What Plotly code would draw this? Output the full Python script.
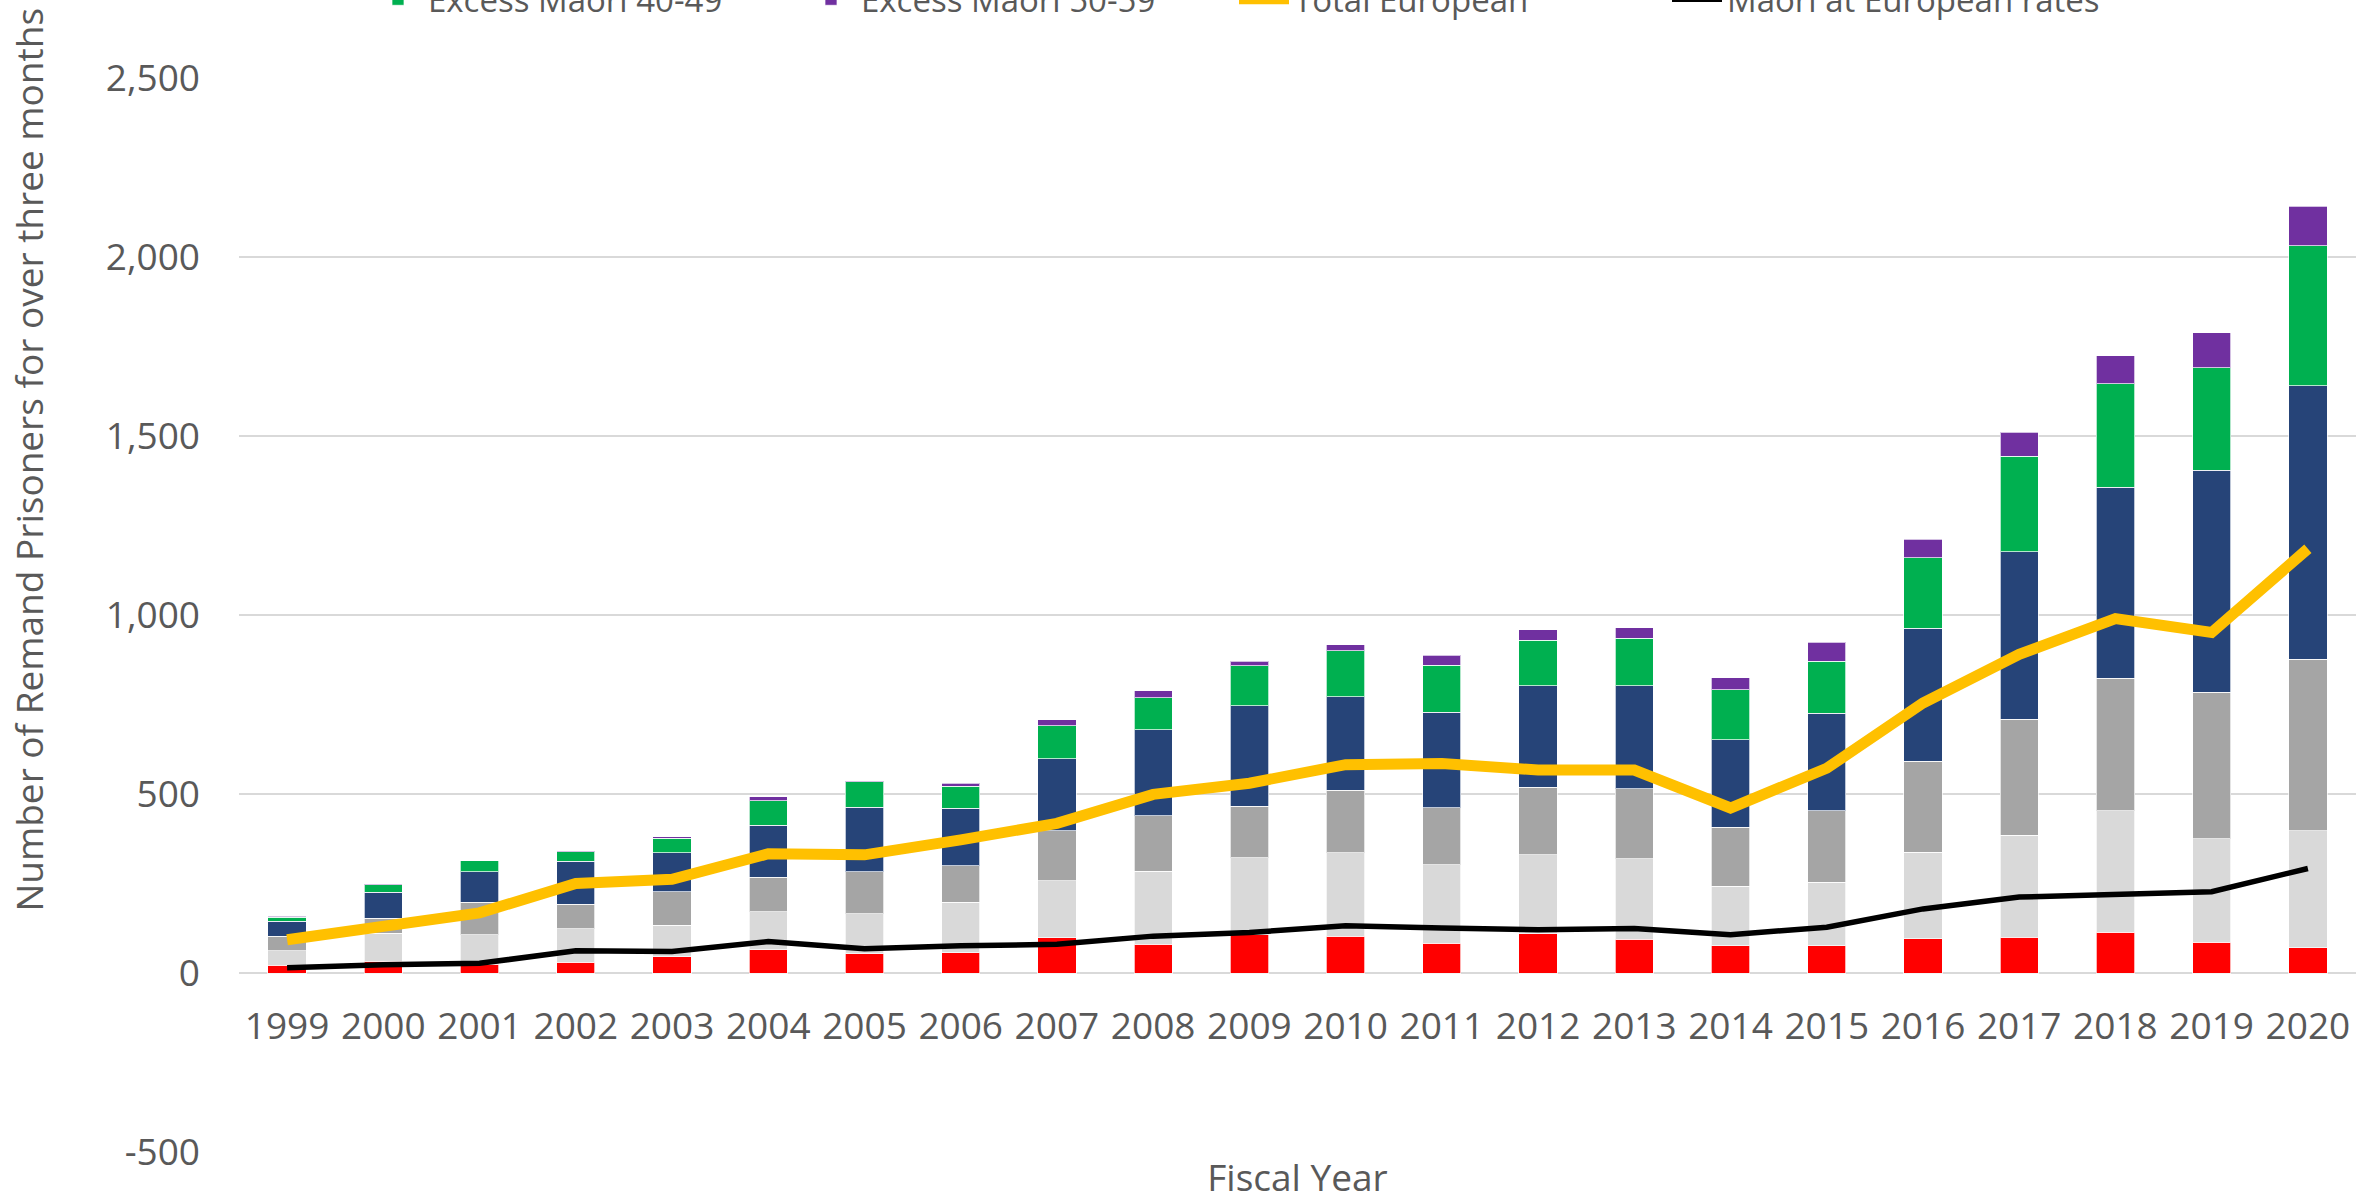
import plotly.graph_objects as go

# Fiscal years on the category axis
years = [str(y) for y in range(1999, 2021)]

# Remand prisoners held over three months, stacked components
excess_17_19 = [21, 33, 25, 30, 45, 65, 54, 57, 98, 80, 107, 103, 83, 110, 94, 76, 76, 95, 100, 114, 86, 70]
excess_20_24 = [41, 78, 82, 94, 88, 106, 111, 141, 159, 204, 215, 233, 220, 221, 225, 166, 178, 243, 285, 339, 289, 327]
excess_25_29 = [41, 42, 90, 68, 94, 97, 118, 102, 141, 155, 144, 174, 158, 188, 195, 165, 199, 254, 324, 371, 409, 480]
excess_30_39 = [42, 72, 86, 120, 109, 145, 180, 160, 201, 240, 281, 262, 267, 284, 289, 244, 272, 371, 467, 533, 621, 763]
excess_40_49 = [11, 22, 30, 27, 41, 68, 71, 62, 92, 90, 111, 128, 131, 126, 132, 140, 146, 197, 267, 289, 285, 392]
excess_50_59 = [2, 3, 1, 3, 3, 11, 3, 8, 16, 19, 13, 17, 29, 30, 29, 34, 53, 51, 68, 78, 98, 110]

# Line series
total_european = [93, 129, 168, 250, 262, 333, 330, 372, 418, 499, 530, 582, 585, 567, 567, 461, 572, 754, 890, 990, 951, 1185]
maori_at_european_rates = [15, 23, 27, 62, 60, 88, 68, 76, 80, 103, 113, 132, 126, 121, 124, 107, 128, 179, 212, 220, 227, 292]

# Value axis ticks (plain hyphen for the negative label)
y_ticks = [-500, 0, 500, 1000, 1500, 2000, 2500]
y_tick_labels = ["-500", "0", "500", "1,000", "1,500", "2,000", "2,500"]

FONT = "Open Sans"
TXT = "#595959"
FS = 37
LEGEND_FS = 33

bar_series = [
    ("Excess Maori 17-19", excess_17_19, "#FF0000", "legend"),
    ("Excess Maori 20-24", excess_20_24, "#D9D9D9", "legend"),
    ("Excess Maori 25-29", excess_25_29, "#A5A5A5", "legend"),
    ("Excess Maori 30-39", excess_30_39, "#264478", "legend"),
    ("Excess Maori 40-49", excess_40_49, "#00B050", "legend2"),
    ("Excess Maori 50-59", excess_50_59, "#7030A0", "legend2"),
]

fig = go.Figure()
for name, vals, color, lg in bar_series:
    fig.add_trace(go.Bar(
        x=years, y=vals, name=name, legend=lg,
        marker=dict(color=color, line=dict(color="rgba(255,255,255,0.7)", width=1)),
    ))

fig.add_trace(go.Scatter(
    x=years, y=total_european, name="Total European", mode="lines", legend="legend2",
    line=dict(color="#FFC000", width=11),
))
fig.add_trace(go.Scatter(
    x=years, y=maori_at_european_rates, name="Maori at European rates", mode="lines", legend="legend2",
    line=dict(color="#000000", width=5.5),
))

PLOT_L, PLOT_T, PLOT_W, PLOT_H = 239, 77.7, 2117, 1074.6

legend_common = dict(
    orientation="h", xref="paper", yref="paper", xanchor="left", yanchor="middle",
    font=dict(family=FONT, size=LEGEND_FS, color=TXT), bgcolor="rgba(0,0,0,0)",
    entrywidth=368, entrywidthmode="pixels", itemwidth=50, traceorder="normal",
)
legend_x = (368 - PLOT_L) / PLOT_W

fig.update_layout(
    width=2356, height=1202,
    paper_bgcolor="white", plot_bgcolor="white",
    margin=dict(l=239, r=0, t=78, b=50, autoexpand=False),
    barmode="stack", bargap=0.602,
    font=dict(family=FONT, size=FS, color=TXT),
    showlegend=True,
    legend=dict(x=legend_x, y=1 + (PLOT_T + 51) / PLOT_H, **legend_common),
    legend2=dict(x=legend_x, y=1 + (PLOT_T + 1) / PLOT_H, **legend_common),
    xaxis=dict(
        type="category", range=[-0.5, 21.5], anchor="free", position=1 / 6,
        showgrid=False, showline=False, zeroline=False, ticks="",
        ticklabelstandoff=28,
        tickfont=dict(family=FONT, size=FS, color=TXT),
        title=dict(text="Fiscal Year", standoff=156, font=dict(family=FONT, size=FS, color=TXT)),
    ),
    yaxis=dict(
        range=[-500, 2500], tickvals=y_ticks, ticktext=y_tick_labels,
        showgrid=True, gridcolor="#D9D9D9", gridwidth=2,
        zeroline=True, zerolinecolor="#D9D9D9", zerolinewidth=2,
        showline=False, ticks="", ticklabelstandoff=38,
        tickfont=dict(family=FONT, size=FS, color=TXT),
    ),
    annotations=[dict(
        text="Number of Remand Prisoners for over three months",
        textangle=-90, xref="paper", yref="paper",
        x=(29 - PLOT_L) / PLOT_W, y=(1152.3 - 459.5) / PLOT_H,
        xanchor="center", yanchor="middle", showarrow=False,
        font=dict(family=FONT, size=FS, color=TXT),
    )],
)

fig.write_html("out.html")
